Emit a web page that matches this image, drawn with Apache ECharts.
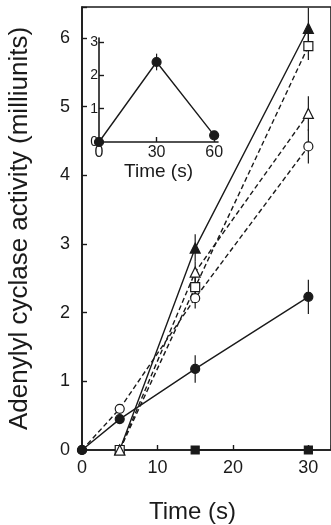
<!DOCTYPE html>
<html>
<head>
<meta charset="utf-8">
<script src="https://cdn.jsdelivr.net/npm/echarts@6/dist/echarts.min.js"></script>
<style>
  html, body { margin: 0; padding: 0; background: #fff; }
  #chart { width: 331px; height: 525px; }
</style>
</head>
<body>
<div id="chart"></div>
<script>
// main panel: [time (s), activity (milliunits), error]
const filledTriangle = [[5, 0, 0], [15, 2.94, 0.2], [30, 6.14, 0.3]];
const openSquare = [[5, 0, 0], [15, 2.37, 0.15], [30, 5.88, 0.2]];
const openTriangle = [[5, 0, 0], [15, 2.59, 0.15], [30, 4.9, 0.25]];
const openCircle = [[0, 0, 0], [5, 0.6, 0], [15, 2.21, 0.15], [30, 4.42, 0.25]];
const filledCircle = [[0, 0, 0], [5, 0.45, 0], [15, 1.18, 0.2], [30, 2.23, 0.25]];
const filledSquare = [[15, 0, 0], [30, 0, 0]];

// inset panel
const insetTime = [0, 30, 60];
const insetValues = [0, 2.4, 0.2];
const insetErrors = [0, 0.25, 0];

const mainXTicks = [0, 10, 20, 30];
const mainYTicks = [0, 1, 2, 3, 4, 5, 6];

const ink = '#1a1a1a';
const font = 'Liberation Sans';

const errorBars = (name, data, xIdx, yIdx) => ({
    type: 'custom',
    name: name + ' err',
    xAxisIndex: xIdx,
    yAxisIndex: yIdx,
    z: 1,
    silent: true,
    data: data.filter(d => d[2] > 0),
    renderItem: (params, api) => {
        const top = api.coord([api.value(0), api.value(1) + api.value(2)]);
        const bot = api.coord([api.value(0), api.value(1) - api.value(2)]);
        return {
            type: 'line',
            shape: { x1: top[0], y1: top[1], x2: bot[0], y2: bot[1] },
            style: { stroke: ink, lineWidth: 1.2 }
        };
    }
});

const lineSeries = (name, data, symbol, filled, dashed, size) => ({
    type: 'line',
    name: name,
    data: data.map(d => [d[0], d[1]]),
    symbol: symbol,
    symbolSize: size || (symbol === 'triangle' ? 10 : 9),
    z: 3,
    lineStyle: { color: ink, width: 1.4, type: dashed ? [5, 3] : 'solid' },
    itemStyle: { color: filled ? ink : '#fff', borderColor: ink, borderWidth: 1.2, opacity: 1 },
    emphasis: { disabled: true }
});

const axisCommon = {
    axisLine: { lineStyle: { color: ink, width: 1.6 } },
    axisTick: { inside: true, length: 5, lineStyle: { color: ink, width: 1.4 } },
    splitLine: { show: false }
};

const getOption = () => {
    return {
        animation: false,
        backgroundColor: '#fff',
        textStyle: { fontFamily: font },
        grid: [
            {
                left: 82, right: 0, top: 7, bottom: 75, show: true, borderColor: ink, borderWidth: 1.6,
                containLabel: false, outerBoundsMode: 'none'
            },
            { left: 99, top: 38, width: 119, height: 104, containLabel: false, outerBoundsMode: 'none' }
        ],
        xAxis: [
            {
                ...axisCommon,
                type: 'value', gridIndex: 0, min: 0, max: 33, interval: 10,
                axisLabel: {
                    color: ink, fontSize: 18, margin: 9,
                    formatter: v => mainXTicks.includes(v) ? String(v) : ''
                },
                name: 'Time (s)', nameLocation: 'middle', nameGap: 50,
                nameTextStyle: { color: ink, fontSize: 24, padding: [0, 28, 0, 0] }
            },
            {
                ...axisCommon,
                type: 'value', gridIndex: 1, min: 0, max: 62, interval: 30,
                axisLabel: { color: ink, fontSize: 16, margin: 3 },
                name: 'Time (s)', nameLocation: 'middle', nameGap: 20,
                nameTextStyle: { color: ink, fontSize: 19 }
            }
        ],
        yAxis: [
            {
                ...axisCommon,
                type: 'value', gridIndex: 0, min: 0, max: 6.45, interval: 1,
                axisLabel: {
                    color: ink, fontSize: 18, margin: 12,
                    formatter: v => mainYTicks.includes(v) ? String(v) : ''
                },
                name: 'Adenylyl cyclase activity (milliunits)', nameLocation: 'middle', nameGap: 49,
                nameTextStyle: { color: ink, fontSize: 26 }
            },
            {
                ...axisCommon,
                type: 'value', gridIndex: 1, min: 0, max: 3.12, interval: 1,
                axisLabel: { color: ink, fontSize: 14, margin: 1 }
            }
        ],
        series: [
            lineSeries('filledTriangle', filledTriangle, 'triangle', true, false),
            lineSeries('openSquare', openSquare, 'rect', false, true),
            lineSeries('openTriangle', openTriangle, 'triangle', false, true),
            lineSeries('openCircle', openCircle, 'circle', false, true),
            lineSeries('filledCircle', filledCircle, 'circle', true, false),
            lineSeries('filledSquare', filledSquare, 'rect', true, false, 8),
            errorBars('filledTriangle', filledTriangle, 0, 0),
            errorBars('openSquare', openSquare, 0, 0),
            errorBars('openTriangle', openTriangle, 0, 0),
            errorBars('openCircle', openCircle, 0, 0),
            errorBars('filledCircle', filledCircle, 0, 0),
            {
                ...lineSeries('inset', insetTime.map((t, i) => [t, insetValues[i]]), 'circle', true, false),
                xAxisIndex: 1, yAxisIndex: 1
            },
            errorBars('inset', insetTime.map((t, i) => [t, insetValues[i], insetErrors[i]]), 1, 1)
        ]
    };
};

const initCharts = () => {
    const chart = echarts.init(document.getElementById('chart'));
    chart.setOption(getOption());
};

window.addEventListener('load', () => {
    initCharts();
});
</script>
</body>
</html>
